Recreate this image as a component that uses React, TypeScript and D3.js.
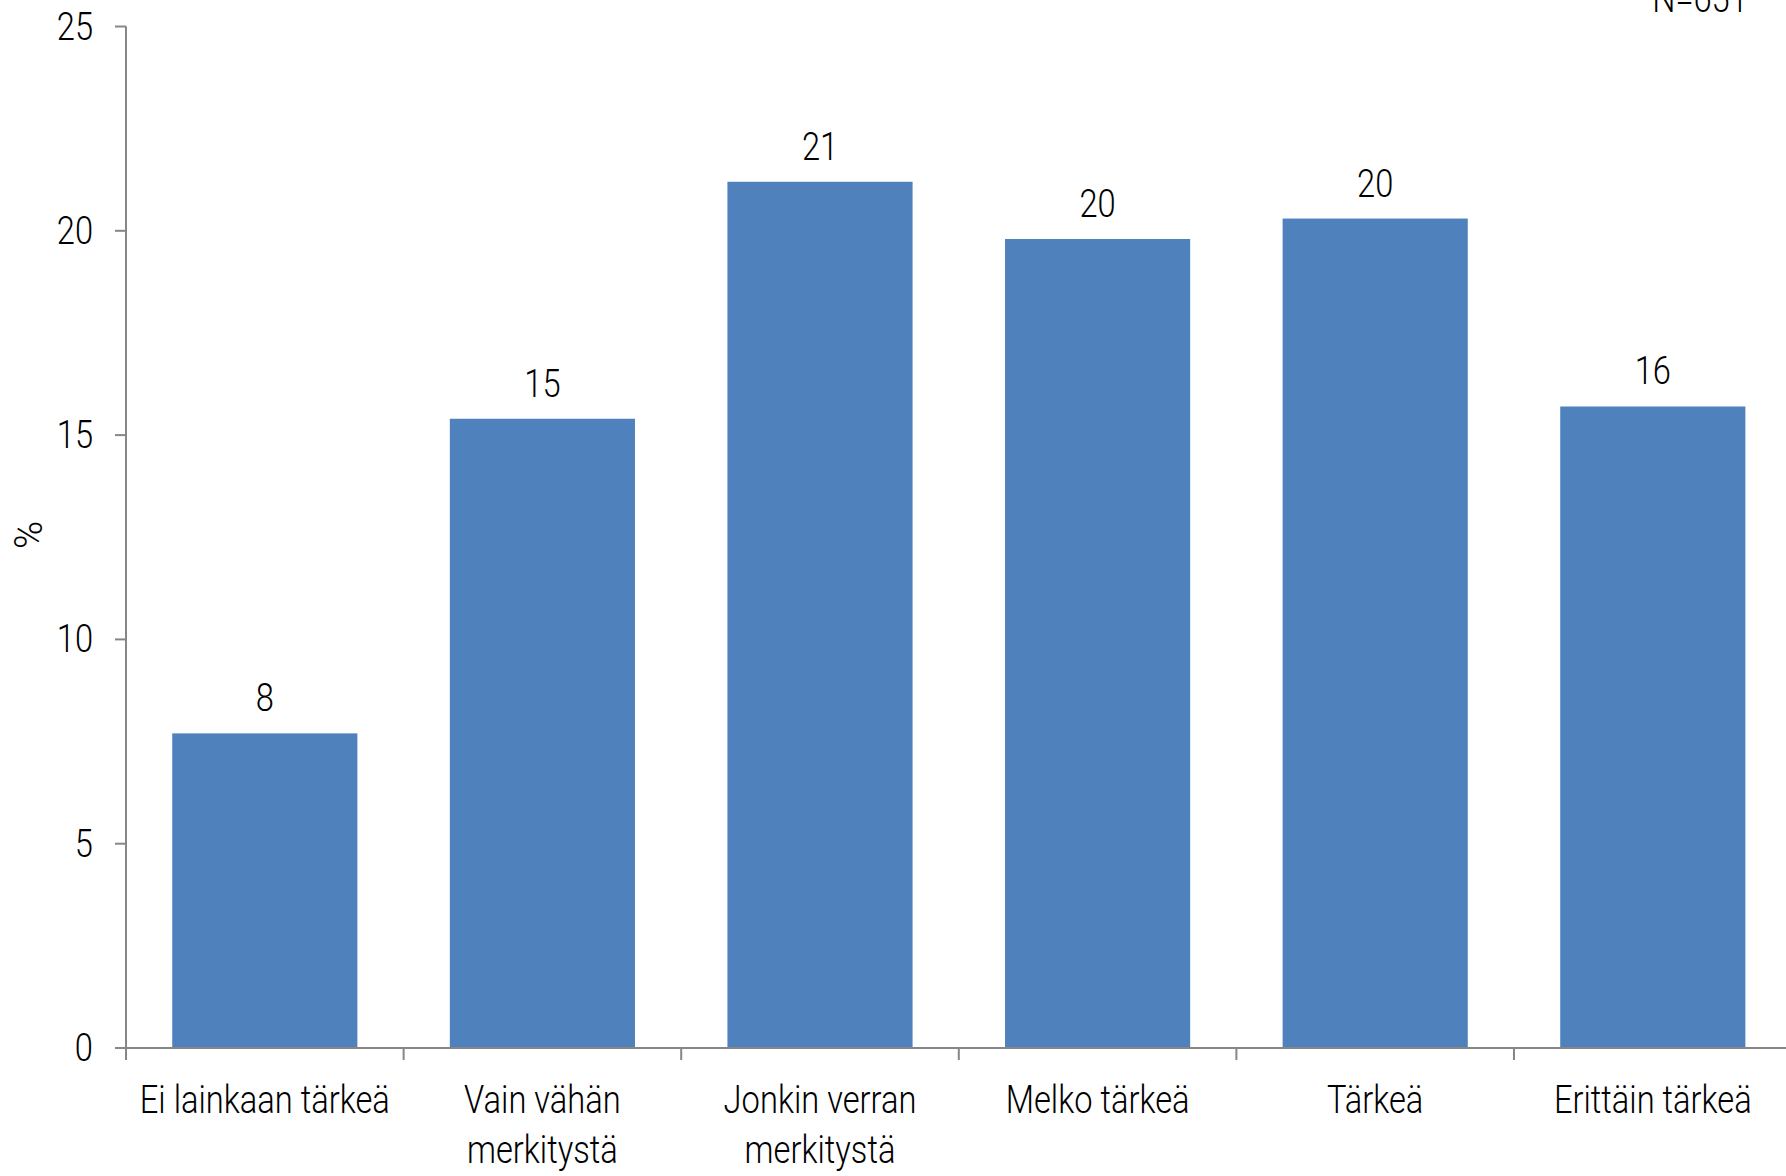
import { useEffect, useRef } from "react"
import * as d3 from "d3"

const categories = [
  ["Ei lainkaan tärkeä"],
  ["Vain vähän", "merkitystä"],
  ["Jonkin verran", "merkitystä"],
  ["Melko tärkeä"],
  ["Tärkeä"],
  ["Erittäin tärkeä"],
]
const values = [7.7, 15.4, 21.2, 19.8, 20.3, 15.7]
const valueLabels = ["8", "15", "21", "20", "20", "16"]
const yTicks = [0, 5, 10, 15, 20, 25]

export default function App() {
  const svgRef = useRef<SVGSVGElement>(null)

  useEffect(() => {
    if (!svgRef.current) return

    const width = 1786
    const height = 1176
    const font = "Roboto, 'DejaVu Sans Condensed', sans-serif"
    const axisColor = "#868686"
    const squeeze = 0.86

    d3.select(svgRef.current).selectAll("*").remove()
    const svg = d3.select(svgRef.current).attr("width", width).attr("height", height)

    // narrow, light text: the original uses a thin condensed face
    const label = (px: number, py: number, txt: string, anchor = "middle") =>
      svg
        .append("text")
        .attr("transform", `translate(${px},${py}) scale(${squeeze},1)`)
        .attr("text-anchor", anchor)
        .attr("font-family", font)
        .attr("font-weight", 300)
        .attr("font-size", 38)
        .attr("fill", "#000")
        .text(txt)

    const left = 126
    const step = 277.6
    const x = d3
      .scaleBand()
      .domain(categories.map((_, i) => String(i)))
      .range([left, left + step * categories.length])
      .paddingInner(0.333)
      .paddingOuter(0.1665)
    const y = d3.scaleLinear().domain([0, 25]).range([1048, 26.5])

    // bars
    svg
      .selectAll(".bar")
      .data(values)
      .enter()
      .append("rect")
      .attr("x", (_, i) => x(String(i))!)
      .attr("y", (d) => y(d))
      .attr("width", x.bandwidth())
      .attr("height", (d) => y(0) - y(d))
      .attr("fill", "#4F81BD")

    // value labels
    values.forEach((v, i) => {
      label(x(String(i))! + x.bandwidth() / 2, y(v) - 22, valueLabels[i])
    })

    // y axis
    svg
      .append("line")
      .attr("x1", left)
      .attr("x2", left)
      .attr("y1", y(25))
      .attr("y2", y(0))
      .attr("stroke", axisColor)
      .attr("stroke-width", 2)
    yTicks.forEach((t) => {
      svg
        .append("line")
        .attr("x1", left - 11)
        .attr("x2", left)
        .attr("y1", y(t))
        .attr("y2", y(t))
        .attr("stroke", axisColor)
        .attr("stroke-width", 2)
      label(93, y(t) + 13, String(t), "end")
    })

    // x axis
    svg
      .append("line")
      .attr("x1", left - 11)
      .attr("x2", left + step * categories.length)
      .attr("y1", y(0))
      .attr("y2", y(0))
      .attr("stroke", axisColor)
      .attr("stroke-width", 2)
    for (let i = 0; i <= categories.length; i++) {
      svg
        .append("line")
        .attr("x1", left + step * i)
        .attr("x2", left + step * i)
        .attr("y1", y(0))
        .attr("y2", y(0) + 12)
        .attr("stroke", axisColor)
        .attr("stroke-width", 2)
    }

    categories.forEach((lines, i) => {
      lines.forEach((line, j) => {
        label(x(String(i))! + x.bandwidth() / 2, 1113 + j * 50, line)
      })
    })

    // y title
    svg
      .append("text")
      .attr("transform", "translate(42,535) rotate(-90)")
      .attr("text-anchor", "middle")
      .attr("font-family", font)
      .attr("font-weight", 300)
      .attr("font-size", 38)
      .text("%")

    // sample size
    label(1700, 12, "N=651")
  }, [])

  return (
    <div style={{ position: "absolute", left: 0, top: 0 }}>
      <svg ref={svgRef} style={{ display: "block" }} />
    </div>
  )
}
